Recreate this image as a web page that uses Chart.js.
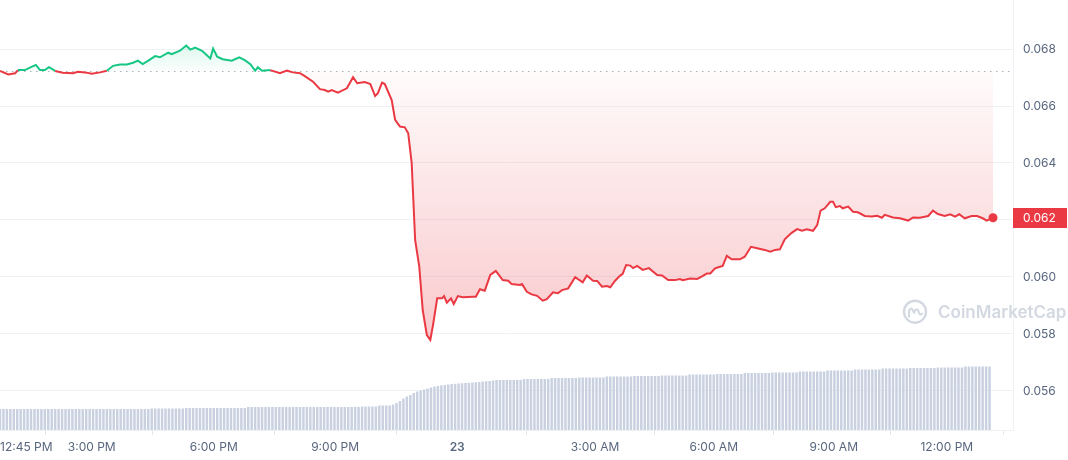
<!DOCTYPE html>
<html>
<head>
<meta charset="utf-8">
<script src="https://cdn.jsdelivr.net/npm/chart.js@4.4.1/dist/chart.umd.min.js"></script>
<style>
  html, body { margin: 0; padding: 0; background: #fff; }
  #wrap { width: 1068px; height: 460px; position: relative; }
</style>
</head>
<body>
<div id="wrap"><canvas id="chart"></canvas></div>
<script>
// price at the start of the window (dotted line)
const openPrice = 0.06724;
const lastPriceLabel = '0.062';

// minutes since 12:45 PM
const priceMinutes = [0,12,22,26,36,48,52,58,65,71,80,91,106,113,123,133,145,155,164,174,184,193,200,207,215,225,232,244,249,261,
  270,276,283,293,305,309,315,323,336,347,355,363,370,374,380,392,406,416,425,435,442,454,464,471,476,481,490,503,512,518,
  529,537,544,548,554,558,568,573,580,587,592,597,602,608,613,619,624,628,634,641,644,648,654,658,664,671,686,690,696,703,
  711,719,729,737,742,754,757,764,771,779,787,793,802,809,815,824,834,845,851,860,866,873,880,885,892,899,903,908,914,918,
  924,932,941,953,960,969,979,986,990,1001,1011,1018,1025,1030,1037,1044,1048,1054,1061,1073,1080,1089,1098,1109,1117,1124,
  1131,1138,1148,1156,1163,1170,1179,1185,1190,1196,1204,1208,1212,1218,1222,1230,1237,1244,1254,1264,1272,1279,1283,1295,
  1305,1317,1324,1334,1346,1353,1360,1370,1378,1385,1391,1399,1409,1417,1425,1431,1440];

const prices = [0.06723,0.06711,0.06715,0.06726,0.06726,0.06740,0.06744,0.06726,0.06726,0.06736,0.06723,0.06717,0.06715,0.06720,0.06718,
  0.06713,0.06718,0.06724,0.06741,0.06746,0.06746,0.06752,0.06759,0.06747,0.06759,0.06775,0.06771,0.06787,0.06782,0.06794,
  0.06812,0.06798,0.06805,0.06794,0.06767,0.06802,0.06773,0.06764,0.06759,0.06771,0.06761,0.06747,0.06724,0.06736,0.06724,
  0.06726,0.06715,0.06724,0.06718,0.06715,0.06705,0.06685,0.06659,0.06656,0.06650,0.06656,0.06647,0.06662,0.06701,0.06680,
  0.06684,0.06677,0.06635,0.06645,0.06682,0.06677,0.06621,0.06551,0.06528,0.06525,0.06504,0.06400,0.06130,0.06036,0.05884,
  0.05796,0.05779,0.05832,0.05925,0.05925,0.05933,0.05910,0.05925,0.05905,0.05933,0.05929,0.05931,0.05931,0.05957,0.05952,
  0.06007,0.06021,0.05989,0.05987,0.05975,0.05972,0.05975,0.05948,0.05939,0.05934,0.05917,0.05922,0.05946,0.05943,0.05954,
  0.05960,0.05999,0.05981,0.06005,0.05987,0.05986,0.05966,0.05968,0.05964,0.05987,0.06004,0.06011,0.06042,0.06040,0.06031,
  0.06039,0.06025,0.06031,0.06007,0.06005,0.05989,0.05989,0.05993,0.05989,0.05995,0.05993,0.06002,0.06012,0.06012,0.06030,
  0.06036,0.06039,0.06074,0.06062,0.06062,0.06071,0.06106,0.06101,0.06095,0.06089,0.06095,0.06097,0.06132,0.06155,0.06168,
  0.06162,0.06167,0.06162,0.06182,0.06233,0.06241,0.06264,0.06264,0.06245,0.06249,0.06241,0.06247,0.06229,0.06227,0.06214,
  0.06212,0.06215,0.06208,0.06218,0.06209,0.06206,0.06198,0.06209,0.06208,0.06214,0.06233,0.06221,0.06214,0.06220,0.06212,
  0.06220,0.06206,0.06214,0.06214,0.06206,0.06198,0.06208];

// volume, one bar every 5 minutes
const volume = [
  2.1,2.1,2.1,2.1,2.1,2.1,2.1,2.1,2.1,2.1,2.1,2.1,2.1,2.1,2.1,2.1,2.1,2.1,2.1,2.1,2.1,2.1,2.1,2.1,
  2.1,2.1,2.1,2.1,2.1,2.1,2.1,2.1,2.1,2.1,2.1,2.1,2.1,2.1,2.1,2.1,2.1,2.1,2.1,2.1,2.15,2.15,2.15,2.15,
  2.15,2.15,2.15,2.15,2.15,2.15,2.2,2.2,2.2,2.2,2.2,2.2,2.2,2.2,2.2,2.2,2.2,2.2,2.2,2.2,2.2,2.2,2.2,2.2,
  2.3,2.3,2.3,2.3,2.3,2.3,2.3,2.3,2.3,2.3,2.3,2.3,2.3,2.3,2.3,2.3,2.3,2.3,2.3,2.3,2.3,2.3,2.3,2.3,
  2.3,2.3,2.3,2.3,2.3,2.3,2.3,2.3,2.3,2.35,2.35,2.35,2.35,2.35,2.45,2.45,2.45,2.45,2.55,2.7,2.9,3.15,3.35,3.5,
  3.7,3.85,3.95,4.05,4.15,4.25,4.35,4.4,4.45,4.5,4.55,4.6,4.62,4.65,4.68,4.7,4.72,4.75,4.78,4.8,4.85,4.88,4.9,4.95,
  5.0,5.0,5.0,5.0,5.0,5.0,5.0,5.0,5.1,5.1,5.1,5.1,5.1,5.1,5.1,5.1,5.2,5.2,5.2,5.2,5.2,5.2,5.2,5.2,
  5.25,5.25,5.25,5.25,5.25,5.25,5.25,5.25,5.35,5.35,5.35,5.35,5.35,5.35,5.35,5.35,5.4,5.4,5.4,5.4,5.4,5.4,5.4,5.4,
  5.45,5.45,5.45,5.45,5.45,5.45,5.45,5.45,5.55,5.55,5.55,5.55,5.55,5.55,5.55,5.55,5.6,5.6,5.6,5.6,5.6,5.6,5.6,5.6,
  5.7,5.7,5.7,5.7,5.7,5.7,5.7,5.7,5.75,5.75,5.75,5.75,5.75,5.75,5.75,5.75,5.85,5.85,5.85,5.85,5.85,5.85,5.85,5.85,
  5.95,5.95,5.95,5.95,5.95,5.95,5.95,5.95,6.05,6.05,6.05,6.05,6.05,6.05,6.05,6.05,6.15,6.15,6.15,6.15,6.15,6.15,6.15,6.15,
  6.2,6.2,6.2,6.2,6.2,6.2,6.2,6.2,6.25,6.25,6.25,6.25,6.25,6.25,6.25,6.25,6.35,6.35,6.35,6.35,6.35,6.35,6.35,6.35
];

const xTickValues = [0, 133, 310, 486, 663, 863, 1035, 1209, 1373];
const xTickLabels = ['12:45 PM', '3:00 PM', '6:00 PM', '9:00 PM', '23', '3:00 AM', '6:00 AM', '9:00 AM', '12:00 PM'];
const yTicks = [0.056, 0.058, 0.060, 0.062, 0.064, 0.066, 0.068];

const GREEN = '#16c784';
const RED = '#ea3943';
const GRID = '#eff2f5';
const TEXT = '#58667e';

Chart.defaults.font.family = 'Inter';
Chart.defaults.font.size = 12;

const pricePoints = priceMinutes.map((m, i) => ({ x: m, y: prices[i] }));
const volumePoints = volume.map((v, i) => ({ x: i * 5, y: v }));

const fillPlugin = {
    id: 'fillPlugin',
    afterLayout(chart) {
        const ctx = chart.ctx;
        const y = chart.scales.y;
        const base = y.getPixelForValue(openPrice);
        const top = y.getPixelForValue(Math.max(...prices));
        const bottom = y.getPixelForValue(Math.min(...prices));
        const g = ctx.createLinearGradient(0, base, 0, top);
        g.addColorStop(0, 'rgba(22,199,132,0.02)');
        g.addColorStop(1, 'rgba(22,199,132,0.14)');
        const r = ctx.createLinearGradient(0, base, 0, bottom);
        r.addColorStop(0, 'rgba(234,57,67,0.02)');
        r.addColorStop(1, 'rgba(234,57,67,0.27)');
        chart.data.datasets[0].fill = { target: { value: openPrice }, above: g, below: r };
    }
};

const decorPlugin = {
    id: 'decor',
    beforeDatasetsDraw(chart) {
        const ctx = chart.ctx;
        const area = chart.chartArea;
        const y = chart.scales.y;
        // watermark
        ctx.save();
        const wy = y.getPixelForValue(0.05878);
        ctx.strokeStyle = '#d3d8e1';
        ctx.fillStyle = '#d3d8e1';
        ctx.lineWidth = 2.4;
        ctx.beginPath();
        ctx.arc(915, wy, 11, 0, Math.PI * 2);
        ctx.stroke();
        ctx.lineWidth = 2.2;
        ctx.lineJoin = 'round';
        ctx.lineCap = 'round';
        ctx.beginPath();
        ctx.moveTo(909, wy + 5);
        ctx.lineTo(909, wy - 1);
        ctx.quadraticCurveTo(912, wy - 6, 914, wy + 1);
        ctx.quadraticCurveTo(917, wy - 6, 919, wy + 1);
        ctx.quadraticCurveTo(920, wy + 4, 922, wy + 2);
        ctx.stroke();
        ctx.font = '600 17px Inter';
        ctx.textBaseline = 'middle';
        ctx.textAlign = 'left';
        ctx.fillText('CoinMarketCap', 938, wy + 1);
        ctx.restore();

        // dotted open price line
        const by = Math.round(y.getPixelForValue(openPrice)) + 0.5;
        ctx.save();
        ctx.strokeStyle = '#a9b1bf';
        ctx.lineWidth = 1;
        ctx.setLineDash([1.5, 4.5]);
        ctx.beginPath();
        ctx.moveTo(area.left, by);
        ctx.lineTo(area.right, by);
        ctx.stroke();
        ctx.restore();
    },
    afterDatasetsDraw(chart) {
        // marker on the latest price, at the point the line controller placed
        const pts = chart.getDatasetMeta(0).data;
        const last = pts[pts.length - 1];
        const ctx = chart.ctx;
        ctx.save();
        ctx.fillStyle = RED;
        ctx.beginPath();
        ctx.arc(last.x, last.y, 4.5, 0, Math.PI * 2);
        ctx.fill();
        ctx.restore();
    },
    afterDraw(chart) {
        const ctx = chart.ctx;
        const area = chart.chartArea;
        const x = chart.scales.x;
        const y = chart.scales.y;
        ctx.save();
        ctx.textBaseline = 'middle';
        xTickValues.forEach((v, i) => {
            const label = xTickLabels[i];
            const bold = /^\d+$/.test(label);
            ctx.font = (bold ? '600 ' : '') + '12px Inter';
            ctx.fillStyle = TEXT;
            const px = x.getPixelForValue(v);
            ctx.textAlign = i === 0 ? 'left' : 'center';
            ctx.fillText(label, i === 0 ? 0 : px, area.bottom + 17);
        });

        // current price tag
        const py = y.getPixelForValue(prices[prices.length - 1]);
        ctx.fillStyle = RED;
        ctx.fillRect(area.right, Math.round(py) - 10, 54, 20);
        ctx.fillStyle = '#ffffff';
        ctx.font = '12px Inter';
        ctx.textAlign = 'left';
        ctx.fillText(lastPriceLabel, area.right + 10, Math.round(py));
        ctx.restore();
    }
};

new Chart(document.getElementById('chart'), {
    type: 'line',
    data: {
        datasets: [{
            type: 'line',
            data: pricePoints,
            yAxisID: 'y',
            borderColor: RED,
            borderWidth: 2,
            tension: 0,
            fill: { target: { value: openPrice }, above: 'rgba(22,199,132,0.08)', below: 'rgba(234,57,67,0.12)' },
            pointRadius: 0,
            pointHoverRadius: 0,
            segment: {
                borderColor: c => ((c.p0.parsed.y + c.p1.parsed.y) / 2 >= openPrice ? GREEN : RED)
            },
            order: 1
        }, {
            type: 'bar',
            data: volumePoints,
            yAxisID: 'yv',
            backgroundColor: '#c9d1e1',
            barPercentage: 0.72,
            categoryPercentage: 1,
            order: 2
        }]
    },
    options: {
        responsive: true,
        maintainAspectRatio: false,
        animation: false,
        events: [],
        layout: { padding: 0 },
        plugins: { legend: { display: false }, tooltip: { enabled: false } },
        scales: {
            x: {
                type: 'linear',
                min: 0,
                max: 1469,
                offset: false,
                grid: {
                    drawOnChartArea: false,
                    drawTicks: true,
                    tickLength: 5,
                    color: GRID,
                    tickColor: c => (c.index === 0 ? 'rgba(0,0,0,0)' : '#e3e7ed')
                },
                border: { display: true, color: GRID },
                ticks: { display: false },
                afterBuildTicks: s => { s.ticks = xTickValues.map(v => ({ value: v })); },
                afterFit: s => { s.height = 30; s.paddingLeft = 0; s.paddingRight = 0; }
            },
            y: {
                position: 'right',
                min: 0.05463,
                max: 0.06972,
                grid: { color: GRID, drawTicks: false },
                border: { display: true, color: GRID },
                ticks: {
                    padding: 10,
                    color: TEXT,
                    font: { size: 12 },
                    callback: v => v.toFixed(3)
                },
                afterBuildTicks: s => { s.ticks = yTicks.map(v => ({ value: v })); },
                afterFit: s => { s.width = 55; s.paddingTop = 0; s.paddingBottom = 0; }
            },
            yv: {
                display: false,
                min: 0,
                max: 43
            }
        }
    },
    plugins: [fillPlugin, decorPlugin]
});
</script>
</body>
</html>
